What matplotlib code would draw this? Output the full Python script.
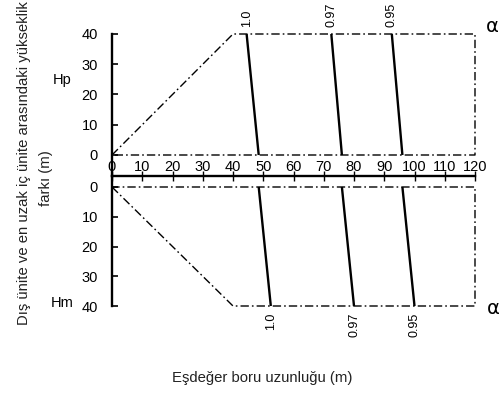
import matplotlib
matplotlib.use("Agg")
import matplotlib.pyplot as plt

# Correction-factor lines (alpha) for the height-difference chart
alpha_labels = ["1.0", "0.97", "0.95"]
# Hp (outdoor unit above): x at Hp=40 and at Hp=0
hp_x_at_40 = [44.5, 72.5, 92.5]
hp_x_at_0 = [48.5, 76.0, 96.0]
# Hm (outdoor unit below): x at Hm=0 and at Hm=40
hm_x_at_0 = [48.5, 76.0, 96.0]
hm_x_at_40 = [52.5, 80.0, 100.0]

# Boundary of the permitted region
boundary_x = [0, 40, 120, 120, 0]
boundary_h = [0, 40, 40, 0, 0]

x_ticks = list(range(0, 121, 10))
h_ticks = [0, 10, 20, 30, 40]

W, H = 504, 394
fig = plt.figure(figsize=(W / 100, H / 100), dpi=100)

num_font = ["Liberation Sans", "DejaVu Sans"]
txt_font = ["Liberation Sans", "DejaVu Sans"]

x0_px, x1_px = 112, 475
top40_px, top0_px = 34, 155
axis_px = 176
bot0_px, bot40_px = 187, 306

def fx(px):
    return px / W

def fy(py):
    return 1 - py / H

dash = (0, (6, 2.2, 1.2, 2.2))
lw_thin = 1.0
lw_thick = 1.7

# Top panel (Hp)
sc_top = (top0_px - top40_px) / 40.0
top_low = -(axis_px - top0_px) / sc_top
ax_t = fig.add_axes([fx(x0_px), fy(axis_px), fx(x1_px - x0_px),
                     (axis_px - top40_px) / H])
ax_t.set_xlim(0, 120)
ax_t.set_ylim(top_low, 40)

# Bottom panel (Hm)
sc_bot = (bot40_px - bot0_px) / 40.0
bot_low = -(bot0_px - axis_px) / sc_bot
ax_b = fig.add_axes([fx(x0_px), fy(bot40_px), fx(x1_px - x0_px),
                     (bot40_px - axis_px) / H])
ax_b.set_xlim(0, 120)
ax_b.set_ylim(40, bot_low)

for ax in (ax_t, ax_b):
    ax.patch.set_visible(False)
    for s in ("top", "right", "bottom"):
        ax.spines[s].set_visible(False)
    ax.spines["left"].set_linewidth(lw_thick)
    ax.set_xticks([])
    ax.set_yticks(h_ticks)
    ax.set_yticklabels([str(v) for v in h_ticks], fontfamily=num_font,
                       fontsize=10.5)
    ax.tick_params(axis="y", direction="in", length=4, width=1.2, pad=10)
    ax.plot(boundary_x, boundary_h, color="black", lw=lw_thin, ls=dash,
            clip_on=False)

for lab, xa, xb in zip(alpha_labels, hp_x_at_40, hp_x_at_0):
    ax_t.plot([xa, xb], [40, 0], color="black", lw=lw_thick,
              solid_capstyle="butt", clip_on=False)
    ax_t.annotate(lab, (xa, 40), xytext=(0, 5), textcoords="offset points",
                  rotation=90, ha="center", va="bottom", fontsize=9,
                  fontfamily=num_font)

for lab, xa, xb in zip(alpha_labels, hm_x_at_0, hm_x_at_40):
    ax_b.plot([xa, xb], [0, 40], color="black", lw=lw_thick,
              solid_capstyle="butt", clip_on=False)
    ax_b.annotate(lab, (xb, 40), xytext=(0, -5), textcoords="offset points",
                  rotation=90, ha="center", va="top", fontsize=9,
                  fontfamily=num_font)

# Shared length axis between the two panels
ax_x = fig.add_axes([fx(x0_px), fy(axis_px), fx(x1_px - x0_px), 0.0001])
ax_x.patch.set_visible(False)
ax_x.set_xlim(0, 120)
ax_x.set_yticks([])
for s in ("left", "right", "bottom"):
    ax_x.spines[s].set_visible(False)
ax_x.spines["top"].set_linewidth(lw_thick)
ax_x.xaxis.set_ticks_position("top")
ax_x.set_xticks(x_ticks)
ax_x.set_xticklabels([str(v) for v in x_ticks], fontfamily=num_font,
                     fontsize=10.5)
ax_x.tick_params(axis="x", direction="inout", length=7, width=1.0, pad=-2)

# Panel annotations
fig.text(fx(62), fy(80), "Hp", fontsize=10.5, fontfamily=num_font,
         ha="center", va="center")
fig.text(fx(62), fy(303), "Hm", fontsize=10.5, fontfamily=num_font,
         ha="center", va="center")
fig.text(fx(492), fy(26), "α", fontsize=14,
         ha="center", va="center")
fig.text(fx(493), fy(308), "α", fontsize=14,
         ha="center", va="center")

# Vertical axis title (two lines)
fig.text(fx(24), fy(163),
         "Dış ünite ve en uzak iç ünite arasındaki yükseklik",
         rotation=90, ha="center", va="center",
         fontsize=10.7, fontfamily=txt_font, color="#222222")
fig.text(fx(46), fy(178), "farkı (m)",
         rotation=90, ha="center", va="center",
         fontsize=10.7, fontfamily=txt_font, color="#222222")
fig.text(fx(262), fy(378), "Eşdeğer boru uzunluğu (m)", ha="center",
         va="center", fontsize=10.7, fontfamily=txt_font, color="#222222")

fig.savefig("out.png", dpi=100)
